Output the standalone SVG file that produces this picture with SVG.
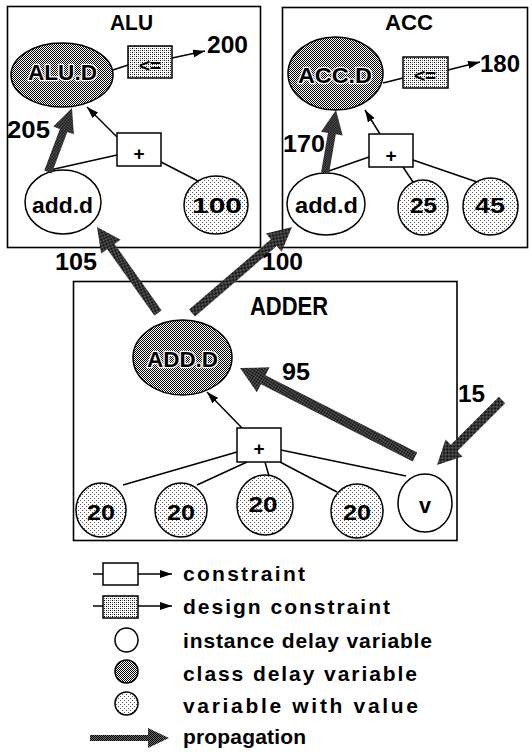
<svg xmlns="http://www.w3.org/2000/svg" width="532" height="753" viewBox="0 0 532 753">
  <defs>
    <!-- halftone fills -->
    <pattern id="dark" width="2" height="2" patternUnits="userSpaceOnUse">
      <rect width="2" height="2" fill="#fff"/>
      <rect width="1" height="1" fill="#000"/>
      <rect x="1" y="1" width="1" height="1" fill="#000"/>
    </pattern>
    <pattern id="prop" width="2" height="2" patternUnits="userSpaceOnUse">
      <rect width="2" height="2" fill="#6a6a6a"/>
      <rect width="1" height="1" fill="#000"/>
      <rect x="1" y="1" width="1" height="1" fill="#000"/>
    </pattern>
    <pattern id="light" width="4" height="4" patternUnits="userSpaceOnUse">
      <rect width="4" height="4" fill="#fff"/>
      <rect width="1" height="1" fill="#555"/>
      <rect x="2" y="2" width="1" height="1" fill="#555"/>
    </pattern>
    <pattern id="box" width="4" height="4" patternUnits="userSpaceOnUse">
      <rect width="4" height="4" fill="#fff"/>
      <rect width="1" height="1" fill="#000"/>
      <rect x="2" y="2" width="1" height="1" fill="#000"/>
      <rect x="2" y="0" width="1" height="1" fill="#777"/>
      <rect x="0" y="2" width="1" height="1" fill="#777"/>
    </pattern>
    <marker id="ah" viewBox="0 0 12 8" refX="12" refY="4" markerWidth="12" markerHeight="8" markerUnits="userSpaceOnUse" orient="auto">
      <path d="M0,0 L12,4 L0,8 z" fill="#000"/>
    </marker>
    <style>
      .frame { fill: none; stroke: #000; stroke-width: 1.6; }
      .line { fill: none; stroke: #000; stroke-width: 1.5; }
      .arr { fill: none; stroke: #000; stroke-width: 1.5; marker-end: url(#ah); }
      .inst { fill: #fff; stroke: #000; stroke-width: 1.5; }
      .cls { fill: url(#dark); stroke: #000; stroke-width: 1.5; }
      .val { fill: url(#light); stroke: #000; stroke-width: 1.5; }
      .con { fill: #fff; stroke: #000; stroke-width: 1.5; }
      .dcon { fill: url(#box); stroke: #000; stroke-width: 1.5; }
      .prop { fill: url(#prop); stroke: none; }
      text { font-family: "Liberation Sans", Arial, Helvetica, sans-serif; font-weight: bold; fill: #000; }
      .lbl { font-size: 22px; text-anchor: middle; }
      .cl { stroke: #fff; stroke-width: 2.5px; paint-order: stroke; stroke-linejoin: round; }
      .num { font-size: 23px; }
      .ttl { font-size: 22px; text-anchor: middle; }
      .big { font-size: 25px; }
      .op { font-size: 19px; text-anchor: middle; }
      .leg { font-size: 21px; }
    </style>
  </defs>

  <rect width="532" height="753" fill="#fff"/>

  <!-- containers -->
  <g id="alu">
    <rect class="frame" x="7.5" y="6.5" width="253" height="241"/>
    <text class="ttl" x="131.5" y="30" textLength="43" lengthAdjust="spacingAndGlyphs">ALU</text>
  </g>
  <g id="acc">
    <rect class="frame" x="282.5" y="7.5" width="245" height="240"/>
    <text class="ttl" x="409" y="30" textLength="48" lengthAdjust="spacingAndGlyphs">ACC</text>
  </g>
  <g id="adder">
    <rect class="frame" x="73.5" y="281.5" width="383.5" height="259"/>
    <text class="ttl big" x="289" y="315" textLength="78" lengthAdjust="spacingAndGlyphs">ADDER</text>
  </g>

  <!-- thin constraint connectors -->
  <g id="connectors">
    <line class="line" x1="113" y1="70" x2="128" y2="65"/>
    <line class="arr" x1="172" y1="58" x2="205" y2="51"/>
    <line class="arr" x1="117" y1="137" x2="87" y2="107"/>
    <line class="line" x1="50" y1="170" x2="117" y2="155"/>
    <line class="line" x1="161" y1="162" x2="200" y2="182"/>

    <line class="line" x1="383" y1="83" x2="403" y2="78"/>
    <line class="arr" x1="448" y1="70" x2="480" y2="62"/>
    <line class="arr" x1="380" y1="134" x2="365" y2="110"/>
    <line class="line" x1="323" y1="173" x2="369" y2="157"/>
    <line class="line" x1="403" y1="167" x2="413" y2="182"/>
    <line class="line" x1="413" y1="160" x2="477" y2="182"/>

    <line class="arr" x1="242" y1="428" x2="207" y2="392"/>
    <line class="line" x1="237" y1="452" x2="123" y2="485"/>
    <line class="line" x1="247" y1="462" x2="197" y2="485"/>
    <line class="line" x1="265" y1="462" x2="269" y2="476"/>
    <line class="line" x1="280" y1="462" x2="337" y2="492"/>
    <line class="line" x1="281" y1="450" x2="406" y2="476"/>
  </g>

  <!-- ALU nodes -->
  <g id="alu-d">
    <ellipse class="cls" cx="62" cy="75" rx="51" ry="32"/>
    <text class="lbl cl" x="62.5" y="80" textLength="69" lengthAdjust="spacingAndGlyphs">ALU.D</text>
  </g>
  <g id="alu-le">
    <rect class="dcon" x="128" y="46" width="44" height="32"/>
    <text class="op" x="150" y="72">&lt;=</text>
  </g>
  <g id="alu-plus">
    <rect class="con" x="117" y="133" width="44" height="33"/>
    <text class="op" x="139" y="160">+</text>
  </g>
  <g id="alu-add">
    <ellipse class="inst" cx="63" cy="202" rx="38" ry="32"/>
    <text class="lbl" x="62.5" y="213" textLength="61" lengthAdjust="spacingAndGlyphs">add.d</text>
  </g>
  <g id="alu-100">
    <ellipse class="val" cx="216" cy="205" rx="32" ry="29"/>
    <text class="lbl" x="217" y="213" textLength="50" lengthAdjust="spacingAndGlyphs">100</text>
  </g>

  <!-- ACC nodes -->
  <g id="acc-d">
    <ellipse class="cls" cx="335.5" cy="73.5" rx="47.5" ry="36.5"/>
    <text class="lbl cl" x="335" y="83" textLength="74" lengthAdjust="spacingAndGlyphs">ACC.D</text>
  </g>
  <g id="acc-le">
    <rect class="dcon" x="403" y="57" width="45" height="31"/>
    <text class="op" x="425" y="82">&lt;=</text>
  </g>
  <g id="acc-plus">
    <rect class="con" x="369" y="134" width="44" height="33"/>
    <text class="op" x="391" y="162">+</text>
  </g>
  <g id="acc-add">
    <ellipse class="inst" cx="326" cy="204" rx="39" ry="31"/>
    <text class="lbl" x="326.5" y="213" textLength="63" lengthAdjust="spacingAndGlyphs">add.d</text>
  </g>
  <g id="acc-25">
    <ellipse class="val" cx="423" cy="207.5" rx="25" ry="27.5"/>
    <text class="lbl" x="423.5" y="213" textLength="27" lengthAdjust="spacingAndGlyphs">25</text>
  </g>
  <g id="acc-45">
    <ellipse class="val" cx="490.5" cy="206.5" rx="27.5" ry="28.5"/>
    <text class="lbl" x="490" y="213" textLength="30" lengthAdjust="spacingAndGlyphs">45</text>
  </g>

  <!-- ADDER nodes -->
  <g id="add-d">
    <ellipse class="cls" cx="182.5" cy="357.5" rx="49.5" ry="37.5"/>
    <text class="lbl cl" x="182.5" y="367" textLength="71" lengthAdjust="spacingAndGlyphs">ADD.D</text>
  </g>
  <g id="adder-plus">
    <rect class="con" x="237" y="428" width="44" height="34"/>
    <text class="op" x="259" y="455">+</text>
  </g>
  <g id="in1">
    <ellipse class="val" cx="101" cy="510" rx="25" ry="27"/>
    <text class="lbl" x="101" y="520" textLength="28" lengthAdjust="spacingAndGlyphs">20</text>
  </g>
  <g id="in2">
    <ellipse class="val" cx="181" cy="510" rx="26" ry="27"/>
    <text class="lbl" x="181" y="520" textLength="28" lengthAdjust="spacingAndGlyphs">20</text>
  </g>
  <g id="in3">
    <ellipse class="val" cx="265" cy="505" rx="28" ry="30"/>
    <text class="lbl" x="263" y="512" textLength="29" lengthAdjust="spacingAndGlyphs">20</text>
  </g>
  <g id="in4">
    <ellipse class="val" cx="357" cy="511" rx="26" ry="27"/>
    <text class="lbl" x="357" y="520" textLength="28" lengthAdjust="spacingAndGlyphs">20</text>
  </g>
  <g id="in-v">
    <ellipse class="inst" cx="425" cy="503" rx="27" ry="29"/>
    <text class="lbl" x="425" y="513" textLength="12" lengthAdjust="spacingAndGlyphs">v</text>
  </g>

  <!-- propagation arrows and their delay values -->
  <g id="propagation">
    <path class="prop" transform="translate(48,172) rotate(-69.44)" d="M0,-4 H44.35 V-11 L68.35,0 L44.35,11 V4 H0 Z"/>
    <path class="prop" transform="translate(325,173) rotate(-80.1)" d="M0,-4 H39.95 V-11 L63.95,0 L39.95,11 V4 H0 Z"/>
    <path class="prop" transform="translate(158,313) rotate(-125.35)" d="M0,-4.5 H81.44 V-12 L105.44,0 L81.44,12 V4.5 H0 Z"/>
    <path class="prop" transform="translate(192,313) rotate(-40.7)" d="M0,-4.5 H107.9 V-12 L131.9,0 L107.9,12 V4.5 H0 Z"/>
    <path class="prop" transform="translate(415,457) rotate(-153.05)" d="M0,-5 H170.3 V-14 L196.3,0 L170.3,14 V5 H0 Z"/>
    <path class="prop" transform="translate(502,400) rotate(135)" d="M0,-4.5 H67.9 V-12 L91.9,0 L67.9,12 V4.5 H0 Z"/>

    <text class="num" x="207" y="53" textLength="41" lengthAdjust="spacingAndGlyphs">200</text>
    <text class="num" x="480" y="72" textLength="40" lengthAdjust="spacingAndGlyphs">180</text>
    <text class="num" x="7" y="138" textLength="43" lengthAdjust="spacingAndGlyphs">205</text>
    <text class="num" x="283" y="152" textLength="42" lengthAdjust="spacingAndGlyphs">170</text>
    <text class="num" x="55" y="270" textLength="42" lengthAdjust="spacingAndGlyphs">105</text>
    <text class="num" x="262" y="270" textLength="41" lengthAdjust="spacingAndGlyphs">100</text>
    <text class="num" x="282" y="380" textLength="28" lengthAdjust="spacingAndGlyphs">95</text>
    <text class="num" x="458" y="402" textLength="27" lengthAdjust="spacingAndGlyphs">15</text>
  </g>

  <!-- legend -->
  <g id="legend">
    <line class="line" x1="93" y1="574" x2="103" y2="574"/>
    <rect class="con" x="103" y="563" width="35" height="22"/>
    <line class="arr" x1="138" y1="574" x2="172" y2="574"/>
    <text class="leg" x="183" y="581" textLength="122" lengthAdjust="spacing">constraint</text>

    <line class="line" x1="93" y1="606" x2="103" y2="606"/>
    <rect class="dcon" x="103" y="596" width="35" height="22"/>
    <line class="arr" x1="138" y1="606" x2="172" y2="606"/>
    <text class="leg" x="183" y="614" textLength="207" lengthAdjust="spacing">design constraint</text>

    <ellipse class="inst" cx="126.5" cy="640" rx="11.5" ry="12"/>
    <text class="leg" x="183" y="648" textLength="249" lengthAdjust="spacing">instance delay variable</text>

    <ellipse class="cls" cx="126.5" cy="671.5" rx="11.5" ry="11.5"/>
    <text class="leg" x="183" y="681" textLength="234" lengthAdjust="spacing">class delay variable</text>

    <ellipse class="val" cx="126.5" cy="703.5" rx="11.5" ry="11.5"/>
    <text class="leg" x="183" y="713" textLength="235" lengthAdjust="spacing">variable with value</text>

    <path class="prop" d="M90,735 H148 V728 L169,738 L148,748 V741 H90 Z"/>
    <text class="leg" x="183" y="744" textLength="123" lengthAdjust="spacing">propagation</text>
  </g>
</svg>
